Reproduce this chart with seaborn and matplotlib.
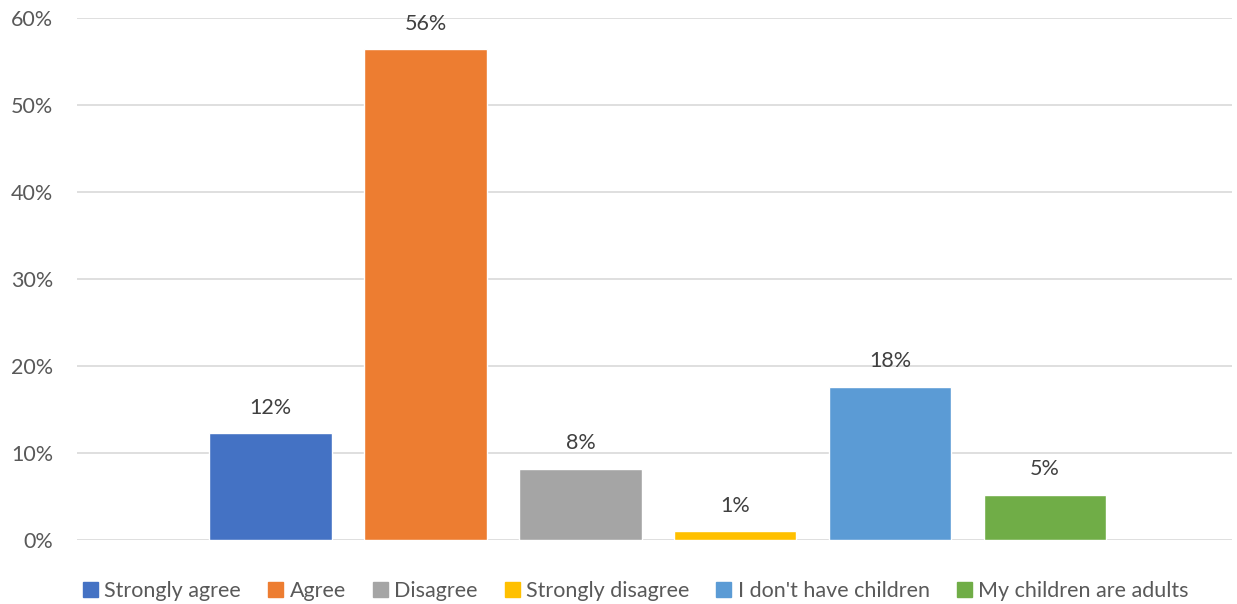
import pandas as pd
import matplotlib.pyplot as plt
import seaborn as sb

answers = ['Strongly agree', 'Agree', 'Disagree', 'Strongly disagree',
           "I don't have children", 'My children are adults']
shares = [12.3, 56.4, 8.2, 1.0, 17.6, 5.2]
labels = ['12%', '56%', '8%', '1%', '18%', '5%']
colors = ['#4472C4', '#ED7D31', '#A5A5A5', '#FFC000', '#5B9BD5', '#70AD47']
ticks = [0, 10, 20, 30, 40, 50, 60]

data = pd.DataFrame({'answer': answers, 'share': shares})

sb.set_style('white')
plt.rcParams['font.family'] = ['Lato', 'DejaVu Sans']

fig = plt.figure(figsize=(12.37, 6.04), dpi=100)
ax = fig.add_axes([0.0623, 0.106, 0.934, 0.865])

sb.barplot(data=data, x='answer', y='share', hue='answer', palette=colors,
           dodge=False, width=0.79, saturation=1, legend=False, ax=ax)

for c, lab in zip(ax.containers, labels):
    ax.bar_label(c, labels=[lab], padding=11, fontsize=15.5, color='#404040')

ax.set_xlim(-1.25, 6.21)
ax.set_ylim(0, 60)
ax.set_yticks(ticks)
ax.set_yticklabels([str(t) + '%' for t in ticks], fontsize=15.5, color='#595959')
ax.set_xticks([])
ax.set_xlabel('')
ax.set_ylabel('')
ax.tick_params(axis='y', length=0, pad=17)
ax.grid(axis='y', color='#D9D9D9', linewidth=1.2)
ax.set_axisbelow(True)
for s in ax.spines.values():
    s.set_visible(False)

handles = [plt.Rectangle((0, 0), 1, 1, color=col) for col in colors]
fig.legend(handles, answers, loc='center', bbox_to_anchor=(0.514, 0.022), ncol=6,
           frameon=False, fontsize=15.5, handlelength=0.7, handleheight=0.7,
           handletextpad=0.3, columnspacing=1.25, labelcolor='#595959')

fig.savefig('out.png', dpi=100)
